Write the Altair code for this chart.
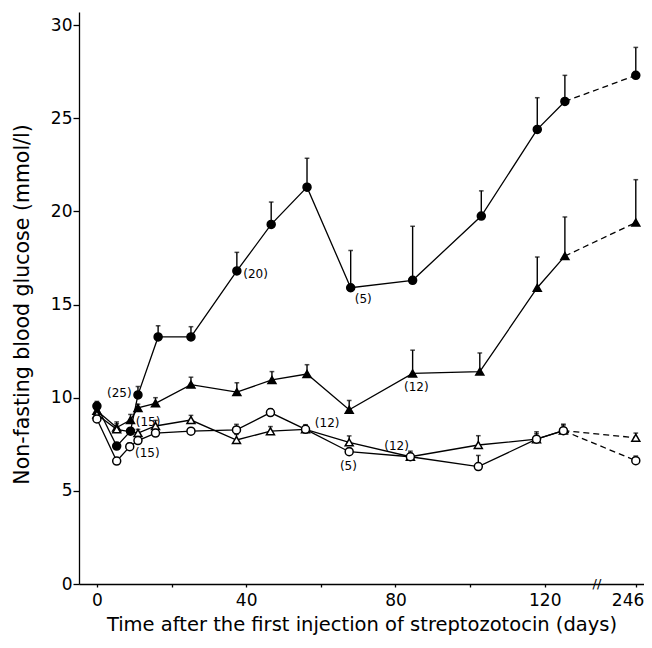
import altair as alt
import pandas as pd

# ---------------- data ----------------
BREAK_DAY = 246
BREAK_POS = 144.4      # axis position used for day 246 (after the axis break)
BREAK_MARK_POS = 134   # where the "//" break symbol sits

# filled circles
days_fc = [0, 5.3, 9, 11, 16.4, 25.2, 37.5, 46.7, 56.3, 68, 84.6, 103, 118, 125.4, 246]
glu_fc = [9.55, 7.4, 8.2, 10.15, 13.26, 13.26, 16.8, 19.3, 21.3, 15.9, 16.3, 19.75, 24.4, 25.9, 27.3]
sem_fc = [0.25, 0.0, 0.0, 0.45, 0.6, 0.55, 1.0, 1.2, 1.55, 2.0, 2.9, 1.35, 1.7, 1.4, 1.5]

# filled triangles
days_ft = [0, 5.3, 9, 11, 15.7, 25.2, 37.5, 46.9, 56.3, 67.6, 84.6, 102.6, 118, 125.4, 246]
glu_ft = [9.3, 8.4, 8.8, 9.45, 9.7, 10.7, 10.3, 10.95, 11.27, 9.35, 11.3, 11.4, 15.9, 17.6, 19.4]
sem_ft = [0.2, 0.3, 0.3, 0.2, 0.3, 0.4, 0.5, 0.45, 0.5, 0.5, 1.25, 1.0, 1.65, 2.1, 2.3]

# open triangles
days_ot = [0, 5.3, 11, 15.7, 25.2, 37.4, 46.5, 55.9, 67.6, 84, 102.2, 117.8, 125, 246]
glu_ot = [9.1, 8.3, 8.1, 8.48, 8.8, 7.73, 8.2, 8.3, 7.6, 6.83, 7.46, 7.77, 8.23, 7.85]
sem_ot = [0.2, 0.3, 0.2, 0.3, 0.25, 0.3, 0.25, 0.25, 0.35, 0.3, 0.5, 0.4, 0.35, 0.25]

# open circles
days_oc = [0, 5.3, 8.8, 11, 15.7, 25.2, 37.4, 46.5, 55.9, 67.6, 84, 102.2, 117.8, 125, 246]
glu_oc = [8.86, 6.6, 7.37, 7.7, 8.1, 8.2, 8.27, 9.2, 8.3, 7.1, 6.83, 6.3, 7.77, 8.23, 6.62]
sem_oc = [0.15, 0.15, 0.2, 0.2, 0.2, 0.15, 0.3, 0.2, 0.2, 0.2, 0.2, 0.6, 0.3, 0.3, 0.25]

# group-size annotations
ann_text = ["(25)", "(15)", "(15)", "(20)", "(5)", "(12)", "(12)", "(5)", "(12)"]
ann_day = [9.3, 10.4, 10.2, 39.2, 69.1, 85.6, 58.4, 67.4, 80.3]
ann_glu = [10.24, 8.71, 7.05, 16.64, 15.3, 10.59, 8.66, 6.33, 7.42]
ann_align = ["right", "left", "left", "left", "left", "center", "left", "center", "center"]

x_tick_days = [0, 40, 80, 120, 246]
x_minor_days = [20, 60, 100]
y_ticks = [0, 5, 10, 15, 20, 25, 30]

X_TITLE = "Time after the first injection of streptozotocin (days)"
Y_TITLE = "Non-fasting blood glucose (mmol/l)"

# ---------------- build tables ----------------
def to_pos(d):
    return BREAK_POS if d == BREAK_DAY else d

series = [
    ("fc", days_fc, glu_fc, sem_fc),
    ("ft", days_ft, glu_ft, sem_ft),
    ("ot", days_ot, glu_ot, sem_ot),
    ("oc", days_oc, glu_oc, sem_oc),
]
rows = []
for name, ds, gs, ss in series:
    for d, g, s in zip(ds, gs, ss):
        rows.append(dict(series=name, day=d, pos=to_pos(d), glu=g, top=g + s, err=s))
df = pd.DataFrame(rows)

solid = df[df["day"] < BREAK_DAY]
last = []
for name, ds, gs, ss in series:
    last.append(dict(series=name, pos=to_pos(ds[-2]), glu=gs[-2]))
    last.append(dict(series=name, pos=to_pos(ds[-1]), glu=gs[-1]))
dashed = pd.DataFrame(last)

ann = pd.DataFrame(dict(text=ann_text, pos=ann_day, glu=ann_glu, align=ann_align))

tick_pos = [to_pos(d) for d in sorted(x_tick_days + x_minor_days)]
label_map = {to_pos(d): str(d) for d in x_tick_days}
label_expr = " : ".join(
    [f"datum.value == {p} ? '{t}'" for p, t in label_map.items()] + ["''"]
)

FONT = "DejaVu Sans"

xscale = alt.Scale(domain=[-4.8, 146.6], nice=False, zero=False)
yscale = alt.Scale(domain=[0, 30.7], nice=False, zero=True)

x_axis = alt.Axis(
    values=tick_pos, labelExpr=label_expr, title=X_TITLE,
    tickSize=3, labelPadding=5, titlePadding=7,
    labelFontSize=17, titleFontSize=19.5,
    labelFlush=10, labelFlushOffset=8,
)
y_axis = alt.Axis(
    values=y_ticks, title=Y_TITLE, tickSize=6, labelPadding=1,
    titlePadding=18, labelFontSize=17, titleFontSize=20.5, titleY=292,
)

X = alt.X("pos:Q", scale=xscale, axis=x_axis)
Xn = alt.X("pos:Q", scale=xscale)
Y = alt.Y("glu:Q", scale=yscale, axis=y_axis)
Yn = alt.Y("glu:Q", scale=yscale)

lines = alt.Chart(solid).mark_line(color="black", strokeWidth=1.3).encode(
    x=X, y=Y, detail="series:N", order="pos:Q"
)
dash = alt.Chart(dashed).mark_line(color="black", strokeWidth=1.3, strokeDash=[6, 4]).encode(
    x=Xn, y=Yn, detail="series:N"
)

err_df = df[df["err"] > 0]
err = alt.Chart(err_df).mark_rule(color="black", strokeWidth=1.4).encode(
    x=Xn, y=Yn, y2="top:Q"
)
caps = alt.Chart(err_df).mark_point(
    shape="M-1,0L1,0", size=22, filled=False, stroke="black", strokeWidth=1.5
).encode(x=Xn, y=alt.Y("top:Q", scale=yscale))

shape_scale = alt.Scale(
    domain=["fc", "ft", "ot", "oc"],
    range=["circle", "triangle-up", "triangle-up", "circle"],
)
fill_scale = alt.Scale(domain=["fc", "ft", "ot", "oc"], range=["black", "black", "white", "white"])

points = alt.Chart(df).mark_point(
    filled=True, stroke="black", strokeWidth=1.5, opacity=1
).encode(
    x=Xn, y=Yn,
    shape=alt.Shape("series:N", scale=shape_scale, legend=None),
    fill=alt.Fill("series:N", scale=fill_scale, legend=None),
    size=alt.value(64),
)

label_layers = []
for a in ["left", "center", "right"]:
    sub = ann[ann["align"] == a]
    if len(sub):
        label_layers.append(
            alt.Chart(sub).mark_text(
                fontSize=12, font=FONT, color="black", baseline="middle", align=a
            ).encode(x=Xn, y=Yn, text="text:N")
        )

brk = alt.Chart(pd.DataFrame(dict(pos=[BREAK_MARK_POS], glu=[0]))).mark_text(
    text="//", fontSize=13, font=FONT, color="black", baseline="middle", align="center"
).encode(x=Xn, y=Yn)

chart = (
    alt.layer(lines, dash, err, caps, points, *label_layers, brk)
    .properties(
        width=565, height=572,
        autosize=alt.AutoSizeParams(type="none"),
        padding={"left": 71, "top": 4, "right": 0, "bottom": 56},
    )
    .configure_view(stroke=None)
    .configure_axis(
        grid=False, domainColor="black", tickColor="black", labelColor="black",
        titleColor="black", labelFont=FONT, titleFont=FONT, titleFontWeight="normal",
        domainWidth=1.3, tickWidth=1.3,
    )
)

chart.save("out.html", embed_options={"renderer": "svg", "actions": False})
